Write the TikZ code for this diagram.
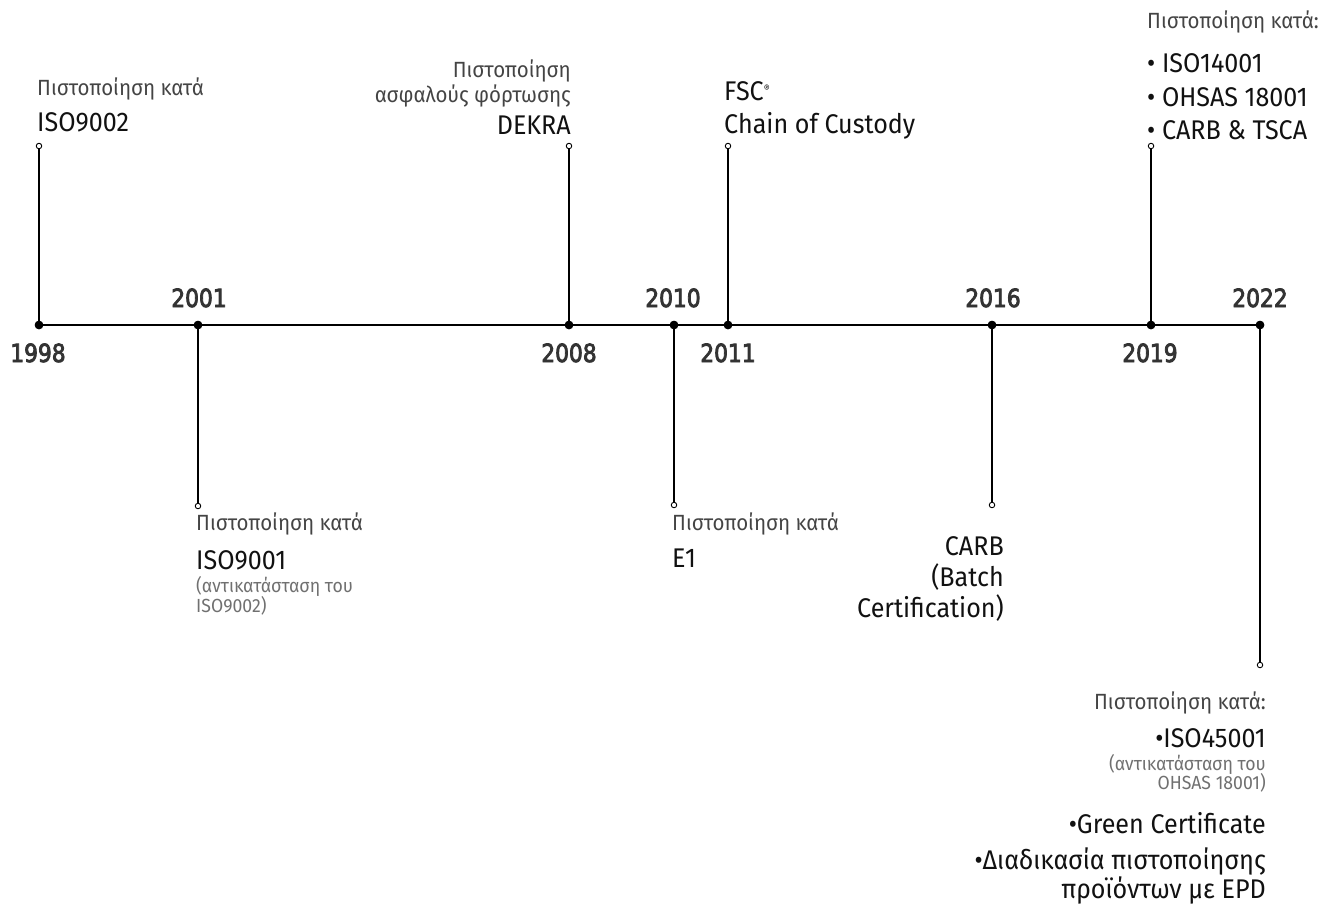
\documentclass[tikz,border=0pt]{standalone}
\usepackage{fontspec}
\setmainfont{Fira Sans}[FakeStretch=0.93]
\newfontfamily\yearfont{DejaVu Sans}[FakeStretch=0.87,FakeBold=3.2]
\definecolor{headgray}{HTML}{444444}
\definecolor{smallgray}{HTML}{707070}
\definecolor{maintext}{HTML}{111111}
\definecolor{yeargray}{HTML}{333333}
\begin{document}
\begin{tikzpicture}[x=1pt,y=-1pt,
  dot/.style={circle,fill=black,inner sep=0pt,minimum size=8.5pt},
  tip/.style={circle,draw=black,fill=white,line width=0.9pt,inner sep=0pt,minimum size=5.5pt},
  conn/.style={line width=1.3pt,black},
  axis/.style={line width=1.8pt,black},
  yr/.style={anchor=base,inner sep=0pt,text=yeargray,font=\yearfont\fontsize{25}{25}\selectfont},
  head/.style={inner sep=0pt,text=headgray,font=\fontsize{22}{22}\selectfont},
  big/.style={inner sep=0pt,text=maintext,font=\fontsize{27}{27}\selectfont},
  small/.style={inner sep=0pt,text=smallgray,font=\fontsize{19}{19}\selectfont},
  L/.style={anchor=base west},
  R/.style={anchor=base east}]
\useasboundingbox (0,0) rectangle (1327,906);
% dots
\node[dot] (d1998) at (39,325) {};
\node[dot] (d2001) at (198,325) {};
\node[dot] (d2008) at (569,325) {};
\node[dot] (d2010) at (674,325) {};
\node[dot] (d2011) at (728,325) {};
\node[dot] (d2016) at (992,325) {};
\node[dot] (d2019) at (1151,325) {};
\node[dot] (d2022) at (1260,325) {};
% tips
\node[tip] (t1998) at (39,146) {};
\node[tip] (t2001) at (198,506) {};
\node[tip] (t2008) at (569,146) {};
\node[tip] (t2010) at (674,505) {};
\node[tip] (t2011) at (728,146) {};
\node[tip] (t2016) at (992,505) {};
\node[tip] (t2019) at (1151,146) {};
\node[tip] (t2022) at (1260,665) {};
% axis and connectors
\draw[axis] (d1998.center) -- (d2022.center);
\foreach \y in {1998,2001,2008,2010,2011,2016,2019,2022}{
  \draw[conn] (d\y.center) -- (t\y);
}
\foreach \y in {1998,2001,2008,2010,2011,2016,2019,2022}{
  \node[dot] at (d\y) {};
}
% years
\node[yr] (y1998) at (38,362) {1998};
\node[yr] (y2001) at (199,307) {2001};
\node[yr] (y2008) at (569,362) {2008};
\node[yr] (y2010) at (673,307) {2010};
\node[yr] (y2011) at (728,362) {2011};
\node[yr] (y2016) at (993,307) {2016};
\node[yr] (y2019) at (1150,362) {2019};
\node[yr] (y2022) at (1260,307) {2022};
% 1998
\node[head,L] (a1) at (37,95) {Πιστοποίηση κατά};
\node[big,L] (a2) at (37,131) {ISO9002};
% 2008
\node[head,R] (b1) at (571,77) {Πιστοποίηση};
\node[head,R] (b2) at (571,102) {ασφαλούς φόρτωσης};
\node[big,R] (b3) at (571,134) {DEKRA};
% 2011
\node[big,L] (c1) at (724,100) {FSC\raisebox{8pt}{\fontsize{10}{10}\selectfont®}};
\node[big,L] (c2) at (724,133) {Chain of Custody};
% 2019
\node[head,L] (e1) at (1147,28) {Πιστοποίηση κατά:};
\node[big,L] (e2) at (1147,72) {• ISO14001};
\node[big,L] (e3) at (1147,106) {• OHSAS 18001};
\node[big,L] (e4) at (1147,139) {• CARB \& TSCA};
% 2001
\node[head,L] (f1) at (196,530) {Πιστοποίηση κατά};
\node[big,L] (f2) at (196,569) {ISO9001};
\node[small,L] (f3) at (196,592) {(αντικατάσταση του};
\node[small,L] (f4) at (196,612) {ISO9002)};
% 2010
\node[head,L] (g1) at (672,530) {Πιστοποίηση κατά};
\node[big,L] (g2) at (672,567) {E1};
% 2016
\node[big,R] (h1) at (1004,555) {CARB};
\node[big,R] (h2) at (1004,586) {(Batch};
\node[big,R] (h3) at (1004,617) {Certification)};
% 2022
\node[head,R] (k1) at (1266,709) {Πιστοποίηση κατά:};
\node[big,R] (k2) at (1266,747) {•ISO45001};
\node[small,R] (k3) at (1266,770) {(αντικατάσταση του};
\node[small,R] (k4) at (1266,789) {OHSAS 18001)};
\node[big,R] (k5) at (1266,833) {•Green Certificate};
\node[big,R] (k6) at (1266,869) {•Διαδικασία πιστοποίησης};
\node[big,R] (k7) at (1266,898) {προϊόντων με EPD};
\end{tikzpicture}
\end{document}
